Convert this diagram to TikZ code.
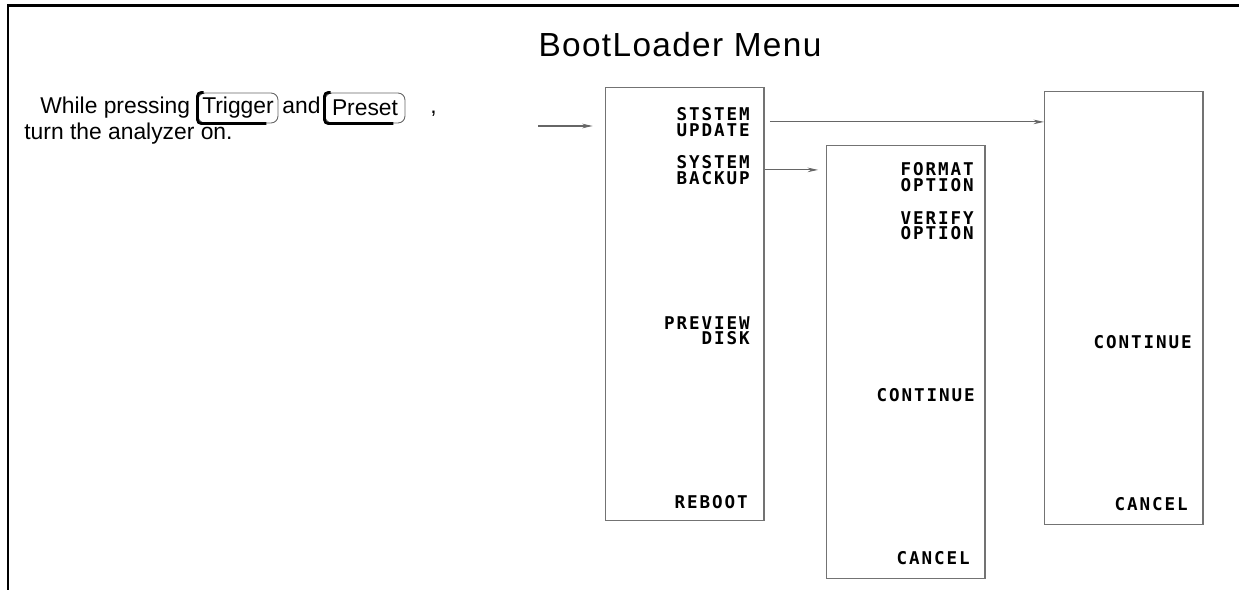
\documentclass[tikz,border=0pt]{standalone}
\usepackage{fontspec}
\setmainfont{Liberation Sans}
\newfontfamily\hpfont[LetterSpace=11]{DejaVu Sans Mono}
\newfontfamily\titlefont[LetterSpace=4]{Liberation Sans}
\usepackage{tikz}
\usetikzlibrary{calc, positioning, arrows.meta}

\tikzset{
    menubox/.style={draw=black!55, line width=0.6pt, minimum width=3.17cm, minimum height=8.66cm, anchor=north west, inner sep=0pt},
    softkey/.style={font=\hpfont\bfseries\fontsize{10}{9}\selectfont, align=right, anchor=north east, inner sep=0pt},
    keycap/.style={draw=black!60, line width=0.5pt, rounded corners=4pt, minimum width=1.6cm, minimum height=0.6cm, inner sep=0pt, font=\fontsize{13}{15}\selectfont},
    keyedge/.style={line width=1.6pt, rounded corners=2pt},
    flow/.style={draw=black!60, line width=0.6pt, -{Stealth[length=6pt, width=2.6pt, fill=black]}},
    note/.style={font=\fontsize{13}{15}\selectfont, inner sep=0pt}
}

\begin{document}
\begin{tikzpicture}[x=0.02cm, y=-0.02cm]
        \useasboundingbox (0,0) rectangle (1239,590);
        \draw[line width=1.7pt] (8,590) -- (8,6) -- (1239,6);
        \node[font=\titlefont\fontsize{19}{21}\selectfont, inner sep=0pt] (title) at (680,45) {BootLoader Menu};

        \node[note, anchor=base west] (while) at (40,114) {While pressing};
        \node[keycap] (trig) at (238,108) {Trigger};
        \node[note, anchor=base west] (and) at (282,114) {and};
        \node[keycap] (pres) at (365,108) {Preset};
        \node[note, anchor=base west] (comma) at (430,114) {,};
        \node[note, anchor=base west] (turn) at (24,140) {turn the analyzer on.};
        \draw[keyedge] ($(trig.north west)+(6,0)$) -- (trig.north west) -- (trig.south west) -- ($(trig.south east)!0.15!(trig.south west)$);
        \draw[keyedge] ($(pres.north west)+(6,0)$) -- (pres.north west) -- (pres.south west) -- ($(pres.south east)!0.15!(pres.south west)$);

        \node[menubox] (menuA) at (605,87) {};
        \node[menubox] (menuB) at (826,145) {};
        \node[menubox] (menuC) at (1044,91) {};

        \node[softkey] (upd) at (750,107) {STSTEM\\UPDATE};
        \node[softkey] (bak) at (750,155) {SYSTEM\\BACKUP};
        \node[softkey] (prev) at (750,316) {PREVIEW\\DISK};
        \node[softkey] (reboot) at (748,495) {REBOOT};

        \node[softkey] (fmt) at (974,162) {FORMAT\\OPTION};
        \node[softkey] (ver) at (974,211) {VERIFY\\OPTION};
        \node[softkey] (contB) at (975,388) {CONTINUE};
        \node[softkey] (cancB) at (970,551) {CANCEL};

        \node[softkey] (contC) at (1192,335) {CONTINUE};
        \node[softkey] (cancC) at (1188,497) {CANCEL};

        \coordinate (start) at (538,126);
        \draw[flow, shorten >=7pt] (start) -- (start -| menuA.west);
        \draw[flow, shorten <=3pt] (upd -| menuA.east) -- (upd -| menuC.west);
        \draw[flow, shorten >=4.5pt] (bak -| menuA.east) -- (bak -| menuB.west);
    \end{tikzpicture}
\end{document}
